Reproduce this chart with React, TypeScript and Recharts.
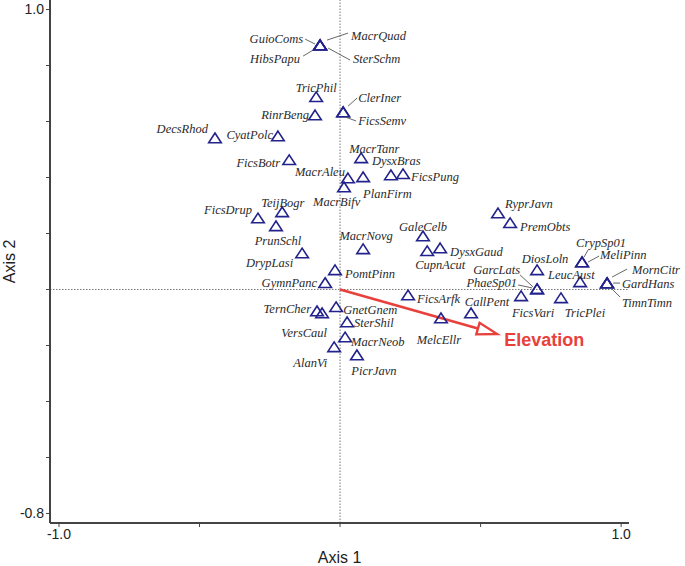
import { ScatterChart, Scatter, XAxis, YAxis, ReferenceLine, Label } from "recharts";

// species scores on the first two ordination axes
const speciesCodes = [
  "GuioComs", "HibsPapu", "MacrQuad", "SterSchm", "TricPhil", "RinrBeng", "ClerIner", "FicsSemv",
  "DecsRhod", "CyatPolc", "FicsBotr", "MacrTanr", "DysxBras", "FicsPung", "MacrAleu", "PlanFirm",
  "MacrBifv", "FicsDrup", "TeijBogr", "PrunSchl", "DrypLasi", "MacrNovg", "GaleCelb", "CupnAcut",
  "DysxGaud", "RyprJavn", "PremObts", "PomtPinn", "GymnPanc", "CrypSp01", "MeliPinn", "DiosLoln",
  "LeucAust", "MornCitr", "GardHans", "TimnTimn", "GarcLats", "PhaeSp01", "FicsArfk", "FicsVari",
  "CallPent", "TricPlei", "MelcEllr", "TernCher", "VersCaul", "GnetGnem", "SterShil", "MacrNeob",
  "AlanVi", "PicrJavn",
];

const axis1Scores = [
  -0.071, -0.071, -0.071, -0.071, -0.085, -0.089, 0.011, 0.011,
  -0.445, -0.221, -0.181, 0.075, 0.181, 0.224, 0.028, 0.082,
  0.014, -0.292, -0.206, -0.228, -0.135, 0.082, 0.295, 0.31,
  0.356, 0.562, 0.605, -0.018, -0.053, 0.861, 0.861, 0.701,
  0.854, 0.95, 0.95, 0.95, 0.701, 0.701, 0.242, 0.644,
  0.466, 0.786, 0.359, -0.082, -0.064, -0.014, 0.025, 0.018,
  -0.021, 0.06,
];

const axis2Scores = [
  0.873, 0.873, 0.873, 0.873, 0.688, 0.623, 0.634, 0.634,
  0.541, 0.548, 0.463, 0.47, 0.409, 0.413, 0.398, 0.402,
  0.366, 0.255, 0.277, 0.227, 0.13, 0.145, 0.191, 0.138,
  0.148, 0.273, 0.238, 0.07, 0.024, 0.098, 0.098, 0.07,
  0.027, 0.023, 0.023, 0.023, 0.002, 0.002, -0.02, -0.023,
  -0.084, -0.03, -0.102, -0.077, -0.084, -0.062, -0.116, -0.17,
  -0.205, -0.234,
];

const elevationVector = [0.559, -0.159];
const elevationName = "Elevation";

const xTicks = [-1, -0.5, 0, 0.5, 1];
const xTickLabels = ["-1.0", "", "", "", "1.0"];
const yTicks = [-0.8, -0.6, -0.4, -0.2, 0, 0.2, 0.4, 0.6, 0.8, 1];
const yTickLabels = ["-0.8", "", "", "", "", "", "", "", "", "1.0"];

const speciesData = speciesCodes.map((name, i) => ({
  name,
  x: axis1Scores[i],
  y: axis2Scores[i],
}));

// label placement around each marker (pixels): anchor, dx, baseline dy, optional leader line
type Spot = { a: "start" | "middle" | "end"; dx: number; dy: number; lead?: number[] };

const labelSpots: Record<string, Spot> = {
  GuioComs: { a: "end", dx: -17, dy: -2, lead: [-15, -6, -5, -1] },
  HibsPapu: { a: "end", dx: -20, dy: 18, lead: [-17, 11, -7, 5] },
  MacrQuad: { a: "start", dx: 31, dy: -5, lead: [7, -5, 28, -12] },
  SterSchm: { a: "start", dx: 33, dy: 18, lead: [8, 3, 30, 15] },
  TricPhil: { a: "middle", dx: 0, dy: -5 },
  RinrBeng: { a: "end", dx: -6, dy: 4 },
  ClerIner: { a: "start", dx: 15, dy: -10, lead: [5, -6, 14, -14] },
  FicsSemv: { a: "start", dx: 15, dy: 13, lead: [2, 5, 13, 9] },
  DecsRhod: { a: "end", dx: -7, dy: -5 },
  CyatPolc: { a: "end", dx: -5, dy: 3 },
  FicsBotr: { a: "end", dx: -9, dy: 7 },
  MacrTanr: { a: "start", dx: -12, dy: -5 },
  DysxBras: { a: "start", dx: -19, dy: -10 },
  FicsPung: { a: "start", dx: 8, dy: 7 },
  MacrAleu: { a: "end", dx: -3, dy: -2 },
  PlanFirm: { a: "start", dx: 0, dy: 21 },
  MacrBifv: { a: "start", dx: -31, dy: 19 },
  FicsDrup: { a: "end", dx: -6, dy: -4 },
  TeijBogr: { a: "start", dx: -21, dy: -5 },
  PrunSchl: { a: "middle", dx: 2, dy: 19 },
  DrypLasi: { a: "end", dx: -9, dy: 14 },
  MacrNovg: { a: "middle", dx: 3, dy: -9 },
  GaleCelb: { a: "middle", dx: 0, dy: -5 },
  CupnAcut: { a: "middle", dx: 13, dy: 18 },
  DysxGaud: { a: "start", dx: 10, dy: 8 },
  RyprJavn: { a: "start", dx: 7, dy: -5 },
  PremObts: { a: "start", dx: 10, dy: 8 },
  PomtPinn: { a: "start", dx: 10, dy: 8 },
  GymnPanc: { a: "end", dx: -8, dy: 4 },
  CrypSp01: { a: "start", dx: -6, dy: -15, lead: [2, -5, 6, -12] },
  MeliPinn: { a: "start", dx: 18, dy: -3, lead: [6, 0, 17, -6] },
  DiosLoln: { a: "middle", dx: 8, dy: -7 },
  LeucAust: { a: "start", dx: -32, dy: -3 },
  MornCitr: { a: "start", dx: 25, dy: -9, lead: [5, -6, 20, -14] },
  GardHans: { a: "start", dx: 15, dy: 5, lead: [6, 0, 13, 0] },
  TimnTimn: { a: "start", dx: 15, dy: 24, lead: [3, 4, 13, 14] },
  GarcLats: { a: "end", dx: -17, dy: -15, lead: [-17, -14, -4, -2] },
  PhaeSp01: { a: "end", dx: -20, dy: -2, lead: [-19, -4, -5, -1] },
  FicsArfk: { a: "start", dx: 9, dy: 8 },
  FicsVari: { a: "middle", dx: 12, dy: 21 },
  CallPent: { a: "middle", dx: 16, dy: -7 },
  TricPlei: { a: "middle", dx: 24, dy: 19 },
  MelcEllr: { a: "middle", dx: -2, dy: 26 },
  TernCher: { a: "end", dx: -6, dy: 2 },
  VersCaul: { a: "end", dx: 5, dy: 24 },
  GnetGnem: { a: "start", dx: 7, dy: 7 },
  SterShil: { a: "start", dx: 7, dy: 5 },
  MacrNeob: { a: "start", dx: 6, dy: 9 },
  AlanVi: { a: "end", dx: -7, dy: 20 },
  PicrJavn: { a: "middle", dx: 17, dy: 20 },
};

const sansFont = "Liberation Sans, Arial, sans-serif";
const serifFont = "Liberation Serif, Times New Roman, serif";
const markerColor = "#22228c";
const arrowColor = "#e8413c";
const axisColor = "#444";

const tickStyle = { fontSize: 14, fill: "#222", fontFamily: sansFont } as const;

function SpeciesMarker(props: any) {
  const { cx, cy, payload } = props;
  const spot = labelSpots[payload?.name];
  return (
    <g>
      <path
        d={`M${cx},${cy - 5} L${cx + 6.3},${cy + 4.7} L${cx - 6.3},${cy + 4.7} Z`}
        fill="none"
        stroke={markerColor}
        strokeWidth={1.6}
        strokeLinejoin="miter"
      />
      {spot?.lead && (
        <line
          x1={cx + spot.lead[0]}
          y1={cy + spot.lead[1]}
          x2={cx + spot.lead[2]}
          y2={cy + spot.lead[3]}
          stroke="#555"
          strokeWidth={0.9}
        />
      )}
      {spot && (
        <text
          x={cx + spot.dx}
          y={cy + spot.dy}
          textAnchor={spot.a}
          fontFamily={serifFont}
          fontStyle="italic"
          fontSize={12.5}
          fill="#2a2a2a"
        >
          {payload.name}
        </text>
      )}
    </g>
  );
}

function ElevationArrow(props: any) {
  const { x1, y1, x2, y2 } = props;
  const len = Math.hypot(x2 - x1, y2 - y1);
  const ux = (x2 - x1) / len;
  const uy = (y2 - y1) / len;
  const bx = x2 - ux * 20;
  const by = y2 - uy * 20;
  const nx = -uy * 6;
  const ny = ux * 6;
  return (
    <g>
      <line x1={x1} y1={y1} x2={bx} y2={by} stroke={arrowColor} strokeWidth={2.6} />
      <path
        d={`M${x2},${y2} L${bx + nx},${by + ny} L${bx - nx},${by - ny} Z`}
        fill="#fff"
        stroke={arrowColor}
        strokeWidth={2.4}
      />
      <text
        x={x2 + 7}
        y={y2 + 12}
        fontFamily={sansFont}
        fontWeight="bold"
        fontSize={18}
        fill={arrowColor}
      >
        {elevationName}
      </text>
    </g>
  );
}

export default function App() {
  return (
    <div style={{ position: "absolute", left: 0, top: 0, background: "#fff" }}>
      <ScatterChart width={685} height={566} margin={{ top: 0, right: 56, bottom: 0, left: 0 }}>
        <XAxis
          type="number"
          dataKey="x"
          domain={[-1.032, 1.028]}
          ticks={xTicks}
          tickFormatter={(v) => xTickLabels[xTicks.indexOf(v)] ?? ""}
          tick={tickStyle}
          tickSize={4}
          axisLine={{ stroke: axisColor, strokeWidth: 2 }}
          tickLine={{ stroke: axisColor }}
          height={43}
          interval={0}
        >
          <Label
            content={({ viewBox }: any) => (
              <text
                x={viewBox.x + viewBox.width / 2}
                y={viewBox.y + viewBox.height - 3}
                textAnchor="middle"
                fontFamily={sansFont}
                fontSize={16}
                fill="#222"
              >
                Axis 1
              </text>
            )}
          />
        </XAxis>
        <YAxis
          type="number"
          dataKey="y"
          domain={[-0.834, 1.034]}
          ticks={yTicks}
          tickFormatter={(v) => yTickLabels[yTicks.findIndex((t) => Math.abs(t - v) < 1e-6)] ?? ""}
          tick={tickStyle}
          tickSize={4}
          axisLine={{ stroke: axisColor, strokeWidth: 2 }}
          tickLine={{ stroke: axisColor }}
          width={50}
          interval={0}
        >
          <Label
            content={({ viewBox }: any) => {
              const lx = viewBox.x + 15;
              const ly = viewBox.y + viewBox.height / 2;
              return (
                <text
                  x={lx}
                  y={ly}
                  transform={`rotate(-90 ${lx} ${ly})`}
                  textAnchor="middle"
                  fontFamily={sansFont}
                  fontSize={16}
                  fill="#222"
                >
                  Axis 2
                </text>
              );
            }}
          />
        </YAxis>
        <ReferenceLine x={0} stroke="#777" strokeDasharray="1.5 1.5" />
        <ReferenceLine y={0} stroke="#777" strokeDasharray="1.5 1.5" />
        <ReferenceLine
          segment={[
            { x: 0, y: 0 },
            { x: elevationVector[0], y: elevationVector[1] },
          ]}
          shape={ElevationArrow}
          ifOverflow="visible"
        />
        <Scatter data={speciesData} shape={SpeciesMarker} isAnimationActive={false} />
      </ScatterChart>
    </div>
  );
}
